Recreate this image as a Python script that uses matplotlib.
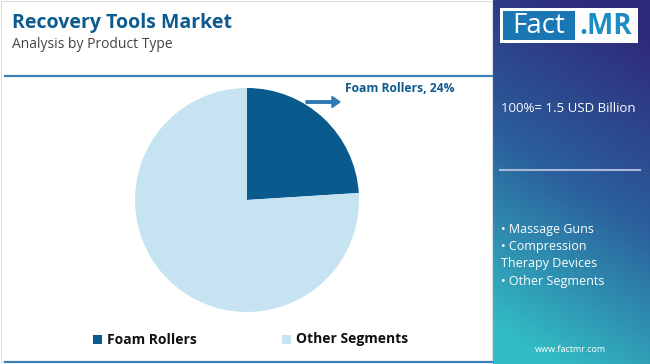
import matplotlib
matplotlib.use("Agg")
import matplotlib.pyplot as plt
import numpy as np
from matplotlib.patches import Rectangle, FancyArrow
from matplotlib.colors import to_rgb

# ---- data ----
categories = ["Foam Rollers", "Other Segments"]
shares = [24, 76]
colors = ["#0b5a8e", "#c6e3f1"]
title = "Recovery Tools Market"
subtitle = "Analysis by Product Type"
total_label = "100%= 1.5 USD Billion"
side_items = ["• Massage Guns", "• Compression", "Therapy Devices", "• Other Segments"]
website = "www.factmr.com"

W, H = 650, 364
fig = plt.figure(figsize=(W / 100, H / 100), dpi=100)
fig.patch.set_facecolor("white")
FONT = "Open Sans"

def fx(x):
    return x / W

def fy(y):
    return 1 - y / H

# ---- background overlay axes ----
bg = fig.add_axes([0, 0, 1, 1])
bg.set_xlim(0, W)
bg.set_ylim(H, 0)
bg.axis("off")

# left panel border
bg.add_patch(Rectangle((1, 1), 491, 361, fill=False, ec="#dddddd", lw=0.8))
# separator lines
bg.plot([5, 492], [76, 76], color="#3d7fb3", lw=1.6)
bg.plot([5, 492], [362, 362], color="#3d7fb3", lw=1.6)

# right gradient panel
x0, x1 = 493, 650
nx, ny = 160, 364
xs = np.linspace(0, 1, nx)
ys = np.linspace(0, 1, ny)
X, Y = np.meshgrid(xs, ys)
t = np.clip(Y * 0.95 + (1 - X) * 0.25 - 0.1, 0, 1)
c0 = np.array(to_rgb("#2f2a7a"))
c1 = np.array(to_rgb("#2b5f9c"))
c2 = np.array(to_rgb("#32bcc4"))
img = np.zeros((ny, nx, 3))
for k in range(3):
    img[..., k] = np.where(t < 0.5,
                           c0[k] + (c1[k] - c0[k]) * (t / 0.5),
                           c1[k] + (c2[k] - c1[k]) * ((t - 0.5) / 0.5))
bg.imshow(img, extent=(x0, x1, H, 0), aspect="auto", zorder=0)

# logo
bg.add_patch(Rectangle((500, 8), 138, 35, fc="white", ec="none", zorder=2))
bg.add_patch(Rectangle((503, 11), 72, 29, fc="#1b77b3", ec="none", zorder=3))
bg.text(539, 26, "Fact", color="white", fontsize=20, family=FONT,
        ha="center", va="center", zorder=4)
bg.text(606, 26, ".MR", color="#1b8cc4", fontsize=20, family=FONT,
        fontweight="bold", ha="center", va="center", zorder=4)

# right panel texts
bg.text(501, 109, total_label, color="white", fontsize=9.5, family=FONT,
        ha="left", va="center", zorder=4)
bg.plot([500, 640], [170, 170], color="#a9b8d8", lw=1.5, zorder=4)
for i, s in enumerate(side_items):
    bg.text(501, 229 + i * 17.5, s, color="white", fontsize=9, family=FONT,
            ha="left", va="center", zorder=4)
bg.text(570, 349, website, color="white", fontsize=6.5, family=FONT,
        ha="center", va="center", zorder=4)

# titles
bg.text(12, 23, title, color="#0d5a8e", fontsize=14, family=FONT,
        fontweight="bold", ha="left", va="center")
bg.text(12, 45, subtitle, color="#444444", fontsize=10, family=FONT,
        ha="left", va="center")

# ---- pie ----
cx, cy, r = 247, 200, 112
pax = fig.add_axes([fx(cx - r), fy(cy + r), fx(2 * r), (2 * r) / H])
pax.pie(shares, colors=colors, startangle=90, counterclock=False,
        radius=1, wedgeprops=dict(linewidth=0))
pax.set_xlim(-1, 1)
pax.set_ylim(-1, 1)
pax.set_aspect("auto")
pax.axis("off")

# annotation arrow and label
bg.add_patch(FancyArrow(306, 102, 26, 0, width=2.5, head_width=11,
                        head_length=8, length_includes_head=False,
                        color="#2f79b3", zorder=5))
bg.text(345, 89, f"{categories[0]}, {shares[0]}%", color="#0d5a8e",
        fontsize=8.7, family=FONT, fontweight="bold", ha="left", va="center")

# legend
leg_x = [93, 282]
for lx, cat, col in zip(leg_x, categories, colors):
    bg.add_patch(Rectangle((lx, 335), 9, 9, fc=col, ec="none"))
    bg.text(lx + 14, 339.5, cat, color="#111111", fontsize=10, family=FONT,
            fontweight="bold", ha="left", va="center")

fig.savefig("out.png", dpi=100)
